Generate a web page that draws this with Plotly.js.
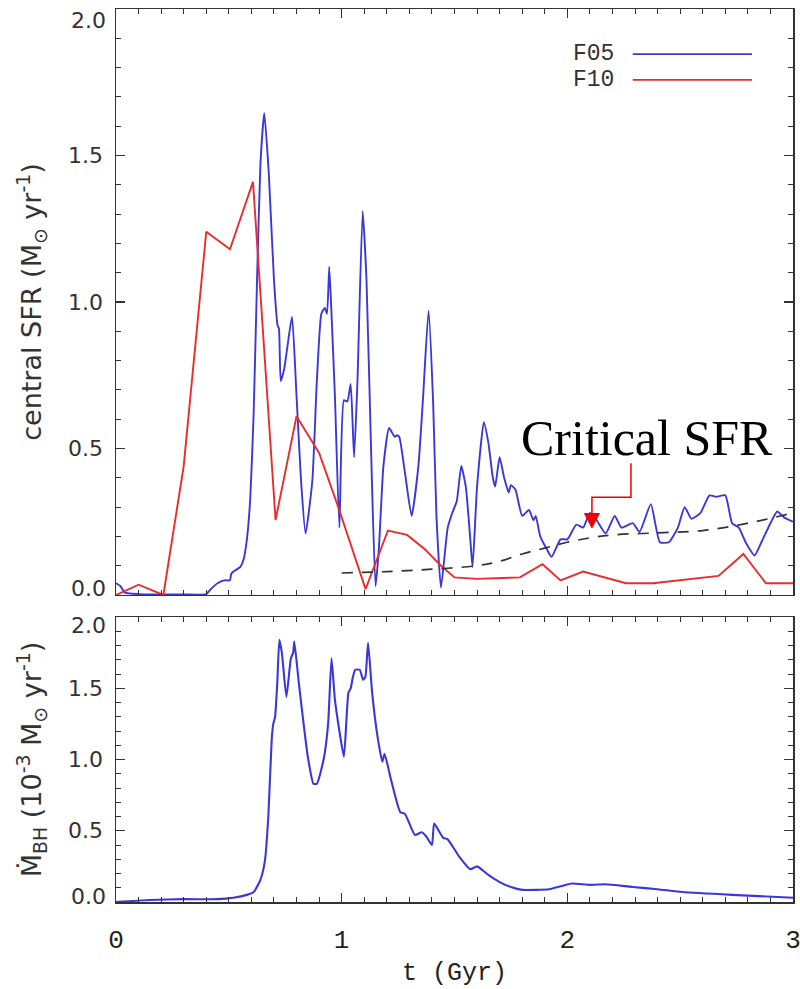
<!DOCTYPE html>
<html>
<head>
<meta charset="utf-8">
<script src="https://cdn.plot.ly/plotly-3.0.1.min.js"></script>
<style>html,body{margin:0;padding:0;background:#fff;}#chart{width:800px;height:989px;}</style>
</head>
<body>
<div id="chart"></div>
<script>
// ---- Data ----
const t_f05 = [0.0,0.02,0.04,0.1,0.2,0.3,0.40,0.42,0.45,0.48,0.505,0.51,0.52,0.55,0.565,0.58,0.595,0.61,0.625,0.64,0.657,0.677,0.70,0.716,0.722,0.73,0.745,0.76,0.78,0.80,0.82,0.84,0.87,0.89,0.91,0.925,0.935,0.945,0.955,0.97,0.99,1.01,1.025,1.04,1.055,1.07,1.093,1.11,1.13,1.15,1.165,1.185,1.21,1.235,1.245,1.255,1.28,1.31,1.34,1.36,1.385,1.405,1.42,1.44,1.47,1.49,1.51,1.53,1.55,1.57,1.58,1.60,1.63,1.65,1.67,1.68,1.70,1.72,1.74,1.75,1.77,1.80,1.83,1.85,1.86,1.88,1.91,1.93,1.97,2.00,2.04,2.07,2.10,2.13,2.17,2.21,2.24,2.29,2.32,2.37,2.41,2.45,2.49,2.52,2.55,2.59,2.63,2.66,2.70,2.73,2.76,2.79,2.83,2.86,2.90,2.93,2.96,3.00];
const sfr_f05 = [0.04,0.03,0.008,0.003,0.002,0.002,0.003,0.02,0.04,0.05,0.05,0.07,0.08,0.095,0.12,0.19,0.33,0.62,1.075,1.47,1.645,1.44,1.075,0.92,0.91,0.73,0.77,0.85,0.95,0.68,0.39,0.21,0.39,0.73,0.96,0.98,0.96,1.12,0.96,0.68,0.23,0.665,0.66,0.72,0.47,0.73,1.31,1.075,0.505,0.03,0.16,0.44,0.57,0.54,0.545,0.54,0.42,0.27,0.44,0.665,0.97,0.665,0.27,0.025,0.23,0.28,0.32,0.44,0.37,0.19,0.095,0.37,0.59,0.52,0.40,0.37,0.47,0.40,0.35,0.375,0.36,0.27,0.29,0.255,0.27,0.20,0.155,0.13,0.19,0.19,0.24,0.23,0.28,0.255,0.21,0.27,0.23,0.245,0.215,0.31,0.18,0.18,0.23,0.30,0.26,0.28,0.34,0.335,0.34,0.245,0.23,0.18,0.135,0.18,0.245,0.285,0.265,0.25];

const t_f10 = [0.0,0.1,0.21,0.30,0.40,0.505,0.607,0.707,0.80,0.90,0.985,1.106,1.205,1.29,1.37,1.44,1.50,1.60,1.79,1.89,1.97,2.07,2.26,2.38,2.67,2.78,2.88,3.0];
const sfr_f10 = [0.0,0.035,0.0,0.44,1.24,1.18,1.41,0.256,0.61,0.485,0.30,0.02,0.22,0.205,0.155,0.10,0.06,0.055,0.06,0.105,0.05,0.08,0.04,0.04,0.065,0.14,0.04,0.04];

const t_crit = [1.0,1.2,1.4,1.6,1.7,1.8,1.9,2.0,2.1,2.2,2.4,2.6,2.8,3.0];
const sfr_crit = [0.075,0.08,0.088,0.10,0.115,0.14,0.16,0.18,0.195,0.205,0.212,0.22,0.245,0.28];

const t_bh = [0.0,0.15,0.30,0.45,0.52,0.58,0.61,0.64,0.66,0.675,0.69,0.697,0.705,0.715,0.724,0.735,0.755,0.775,0.785,0.79,0.81,0.85,0.875,0.89,0.92,0.94,0.955,0.97,0.99,1.01,1.03,1.04,1.05,1.06,1.08,1.095,1.105,1.117,1.135,1.16,1.18,1.19,1.22,1.26,1.28,1.325,1.355,1.375,1.40,1.41,1.45,1.47,1.52,1.57,1.60,1.65,1.70,1.75,1.80,1.92,1.97,2.02,2.10,2.17,2.29,2.40,2.51,2.73,3.0];
const mdot_bh = [0.0,0.014,0.02,0.02,0.03,0.05,0.07,0.155,0.29,0.6,1.14,1.25,1.30,1.55,1.84,1.75,1.44,1.71,1.75,1.83,1.54,1.02,0.83,0.83,1.0,1.25,1.71,1.42,1.2,1.02,1.47,1.50,1.58,1.63,1.63,1.56,1.58,1.82,1.47,1.15,0.985,1.04,0.85,0.63,0.62,0.47,0.49,0.46,0.40,0.55,0.45,0.44,0.32,0.23,0.25,0.19,0.14,0.105,0.085,0.09,0.11,0.13,0.12,0.125,0.105,0.09,0.07,0.05,0.03];

const yTicks = [0, 0.5, 1.0, 1.5, 2.0];
const xTicks = [0, 1, 2, 3];
const seriesNames = ['F05', 'F10'];

// ---- Styles ----
const BLUE = 'rgb(60,55,215)';
const RED = 'rgb(232,45,45)';
const AXC = '#333';
const sansTick = {family: 'DejaVu Sans', size: 22, color: '#333'};
const monoFont = {family: 'Liberation Mono', size: 25, color: '#222'};

const traces = [
  {x: t_f05, y: sfr_f05, xaxis: 'x', yaxis: 'y', mode: 'lines', name: seriesNames[0],
   line: {color: BLUE, width: 1.9, shape: 'spline', smoothing: 0.5}, showlegend: false},
  {x: t_f10, y: sfr_f10, xaxis: 'x', yaxis: 'y', mode: 'lines', name: seriesNames[1],
   line: {color: RED, width: 1.9}, showlegend: false},
  {x: t_crit, y: sfr_crit, xaxis: 'x', yaxis: 'y', mode: 'lines', name: 'Critical SFR',
   line: {color: '#333', width: 1.7, dash: '11px,9px', shape: 'spline'}, showlegend: false},
  {x: t_bh, y: mdot_bh, xaxis: 'x2', yaxis: 'y2', mode: 'lines', name: 'BH',
   line: {color: BLUE, width: 2.1, shape: 'spline', smoothing: 0.5}, showlegend: false}
];

function xax(showLabels, anchor) {
  return {
    range: [0, 3], anchor: anchor, showgrid: false, zeroline: false,
    showline: true, linecolor: AXC, linewidth: 1.5, mirror: 'ticks',
    ticks: 'inside', ticklen: 9, tickwidth: 1.2, tickcolor: AXC,
    tickvals: xTicks, ticktext: xTicks.map(String), showticklabels: showLabels,
    tickfont: {family: 'Liberation Mono', size: 26, color: '#222'},
    ticklabelstandoff: 13, ticklabeloverflow: 'allow',
    minor: {ticks: 'inside', ticklen: 5, dtick: 0.1, tickcolor: AXC, tickwidth: 1, showgrid: false}
  };
}
// interior tick labels come from the axis; the two end labels are drawn
// nudged inward (as the original plotting package does) by annotations below
function yax(domain, anchor, title, tsize) {
  return {
    range: [0, 2], domain: domain, anchor: anchor, showgrid: false, zeroline: false,
    showline: true, linecolor: AXC, linewidth: 1.5, mirror: 'ticks',
    ticks: 'inside', ticklen: 9, tickwidth: 1.2, tickcolor: AXC,
    tickvals: yTicks,
    ticktext: yTicks.map((v, i) => (i === 0 || i === yTicks.length - 1) ? '' : v.toFixed(1)),
    tickfont: sansTick, ticklabelstandoff: 7,
    minor: {ticks: 'inside', ticklen: 5, dtick: 0.1, tickcolor: AXC, tickwidth: 1, showgrid: false},
    title: {text: title, font: {family: 'DejaVu Sans', size: tsize, color: '#333'}, standoff: 18}
  };
}
function endLabel(yref, v, shift) {
  return {xref: 'paper', yref: yref, x: -0.0125, y: v, text: v.toFixed(1), showarrow: false,
          xanchor: 'right', yanchor: 'middle', yshift: shift, font: sansTick};
}

const xa = xax(false, 'y');
const xa2 = xax(true, 'y2');
xa2.title = {text: 't (Gyr)', font: monoFont, standoff: 8};

const yMin = yTicks[0], yMax = yTicks[yTicks.length - 1];

const layout = {
  width: 800, height: 989,
  margin: {l: 116, r: 7, t: 9, b: 87},
  paper_bgcolor: '#fff', plot_bgcolor: '#fff',
  xaxis: xa,
  xaxis2: xa2,
  yaxis: yax([0.3438, 1], 'x', 'central SFR (M<sub>⊙</sub> yr<sup>-1</sup>)', 27),
  yaxis2: yax([0, 0.3191], 'x2', 'Ṁ<sub>BH</sub> (10<sup>-3</sup> M<sub>⊙</sub> yr<sup>-1</sup>)', 27),
  annotations: [
    endLabel('y', yMax, -11), endLabel('y', yMin, 6),
    endLabel('y2', yMax, -8), endLabel('y2', yMin, 6),
    {xref: 'x', yref: 'y', x: 2.215, y: 1.846, text: seriesNames[0], showarrow: false,
     xanchor: 'right', yanchor: 'middle', font: {family: 'Liberation Mono', size: 23, color: '#333'}},
    {xref: 'x', yref: 'y', x: 2.215, y: 1.758, text: seriesNames[1], showarrow: false,
     xanchor: 'right', yanchor: 'middle', font: {family: 'Liberation Mono', size: 23, color: '#333'}},
    {xref: 'x', yref: 'y', x: 2.353, y: 0.535, text: 'Critical SFR', showarrow: false,
     xanchor: 'center', yanchor: 'middle', font: {family: 'Liberation Serif', size: 50, color: '#000'}}
  ],
  shapes: [
    {type: 'line', xref: 'x', yref: 'y', x0: 2.29, x1: 2.818, y0: 1.846, y1: 1.846, line: {color: BLUE, width: 1.8}},
    {type: 'line', xref: 'x', yref: 'y', x0: 2.29, x1: 2.818, y0: 1.758, y1: 1.758, line: {color: RED, width: 1.8}},
    {type: 'path', xref: 'x', yref: 'y', path: 'M 2.282 0.45 L 2.282 0.334 L 2.109 0.334 L 2.109 0.27',
     line: {color: 'rgb(240,0,0)', width: 1.5}},
    {type: 'path', xref: 'x', yref: 'y', path: 'M 2.076 0.278 L 2.142 0.278 L 2.109 0.229 Z',
     fillcolor: 'rgb(240,0,0)', line: {color: 'rgb(240,0,0)', width: 1}}
  ]
};

Plotly.newPlot('chart', traces, layout, {staticPlot: true, displayModeBar: false});
</script>
</body>
</html>
